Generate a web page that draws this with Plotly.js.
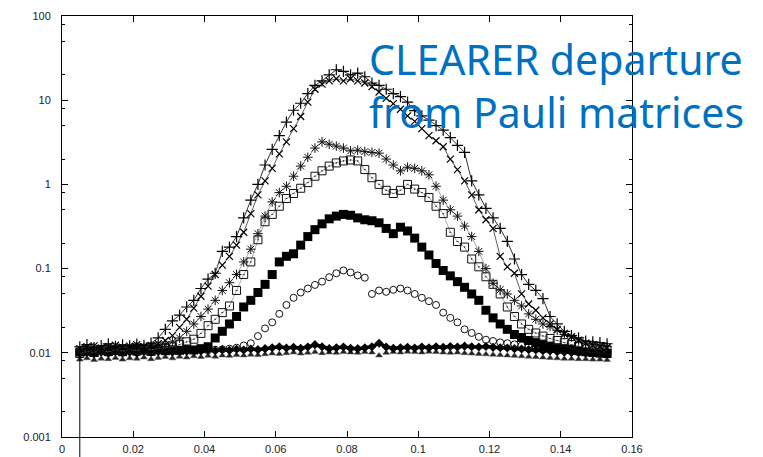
<!DOCTYPE html>
<html>
<head>
<meta charset="utf-8">
<script src="https://cdn.plot.ly/plotly-3.0.1.min.js"></script>
<style>html,body{margin:0;padding:0;background:#fff;}#chart{width:763px;height:457px;}</style>
</head>
<body>
<div id="chart"></div>
<script>
const xs = [0.005,0.007,0.009,0.011,0.013,0.015,0.017,0.019,0.021,0.023,0.025,0.027,0.029,0.031,0.033,0.035,0.037,0.039,0.041,0.043,0.045,0.047,0.049,0.051,0.053,0.055,0.057,0.059,0.061,0.063,0.065,0.067,0.069,0.071,0.073,0.075,0.077,0.079,0.081,0.083,0.085,0.087,0.089,0.091,0.093,0.095,0.097,0.099,0.101,0.103,0.105,0.107,0.109,0.111,0.113,0.115,0.117,0.119,0.121,0.123,0.125,0.127,0.129,0.131,0.133,0.135,0.137,0.139,0.141,0.143,0.145,0.147,0.149,0.151,0.153];

const plusVals = [0.0118,0.0125,0.0115,0.0122,0.0128,0.0119,0.0124,0.0121,0.0127,0.0123,0.013,0.015,0.019,0.024,0.028,0.035,0.042,0.058,0.075,0.088,0.16,0.18,0.24,0.40,0.65,1.0,1.7,2.6,3.8,5.5,7.6,9.2,12,15,17,20,23,22,20,21,19,16,15,13.5,12,11,9.5,7.5,6.5,5.8,5.0,4.4,3.6,2.9,2.4,1.1,0.75,0.52,0.40,0.30,0.21,0.13,0.085,0.065,0.055,0.044,0.027,0.022,0.018,0.016,0.015,0.0138,0.0135,0.0132,0.0128];

const crossVals = [0.0112,0.0118,0.0121,0.0114,0.0119,0.0123,0.0116,0.012,0.0125,0.0118,0.0122,0.0128,0.014,0.016,0.02,0.025,0.034,0.047,0.062,0.085,0.11,0.14,0.19,0.27,0.45,0.75,1.1,1.55,2.3,3.2,4.6,6.4,9.5,13.5,15.5,17,18,17,18,17,16,14.5,12.5,10.5,9.1,7.8,6.5,5.6,4.6,3.8,3.3,2.8,2.0,1.5,1.1,0.75,0.5,0.38,0.3,0.14,0.105,0.088,0.05,0.038,0.032,0.026,0.022,0.019,0.017,0.0155,0.014,0.013,0.0122,0.0118,0.0115];

const starVals = [0.0105,0.011,0.0113,0.0108,0.0115,0.0111,0.0117,0.0113,0.0118,0.0114,0.0119,0.012,0.0125,0.0135,0.015,0.018,0.022,0.027,0.033,0.042,0.055,0.068,0.085,0.12,0.17,0.26,0.42,0.62,0.8,0.95,1.25,1.65,2.1,2.7,3.2,3.0,2.85,2.7,2.5,2.55,2.45,2.4,2.35,2.0,1.7,1.45,1.6,1.55,1.45,1.3,0.95,0.65,0.5,0.42,0.32,0.24,0.16,0.1,0.067,0.056,0.05,0.042,0.036,0.029,0.025,0.022,0.0205,0.0185,0.0165,0.0155,0.0142,0.013,0.0125,0.012,0.0118];

const boxVals = [0.0098,0.0104,0.0101,0.0107,0.0103,0.0108,0.0105,0.011,0.0106,0.0111,0.0109,0.0112,0.0115,0.0118,0.0125,0.0135,0.0145,0.017,0.021,0.025,0.03,0.036,0.055,0.085,0.12,0.22,0.36,0.44,0.55,0.68,0.78,0.9,1.05,1.25,1.45,1.65,1.8,1.9,1.95,1.9,1.5,1.2,1.0,0.85,0.78,0.85,1.0,0.88,0.8,0.7,0.55,0.45,0.27,0.21,0.18,0.13,0.105,0.08,0.065,0.05,0.035,0.027,0.022,0.019,0.0172,0.0158,0.0148,0.014,0.0132,0.0125,0.012,0.0115,0.0112,0.011,0.0108];

const solidSqVals = [0.0102,0.0106,0.0101,0.0108,0.0104,0.0107,0.0103,0.0109,0.0105,0.0108,0.0104,0.011,0.0106,0.0109,0.0107,0.0111,0.0108,0.0112,0.0118,0.015,0.018,0.022,0.027,0.035,0.042,0.052,0.065,0.085,0.12,0.14,0.15,0.19,0.24,0.29,0.34,0.39,0.42,0.44,0.43,0.40,0.38,0.37,0.35,0.30,0.26,0.31,0.28,0.23,0.18,0.145,0.115,0.095,0.082,0.07,0.06,0.05,0.042,0.032,0.026,0.022,0.019,0.0165,0.0152,0.014,0.0132,0.0125,0.012,0.0115,0.0112,0.011,0.0106,0.0103,0.0101,0.0099,0.0098];

const circleVals = [0.0101,0.0104,0.0099,0.0106,0.0102,0.0105,0.01,0.0107,0.0103,0.0106,0.0102,0.0108,0.0104,0.0107,0.0105,0.0109,0.0106,0.011,0.0107,0.0109,0.011,0.0112,0.0115,0.0122,0.013,0.0158,0.0195,0.023,0.029,0.037,0.045,0.052,0.058,0.064,0.07,0.079,0.088,0.095,0.09,0.083,0.078,0.05,0.055,0.053,0.056,0.058,0.055,0.05,0.045,0.041,0.037,0.03,0.026,0.023,0.019,0.0172,0.0155,0.0143,0.0138,0.0133,0.013,0.0126,0.0122,0.012,0.0117,0.0114,0.0111,0.0108,0.0106,0.0104,0.0102,0.01,0.0099,0.0098,0.0097];

const baseUpperVals = [0.0098,0.0101,0.0097,0.0102,0.0099,0.0103,0.01,0.0102,0.0099,0.0104,0.0101,0.0103,0.0105,0.0102,0.0106,0.0104,0.0107,0.0105,0.0108,0.0106,0.0109,0.0107,0.011,0.0108,0.0111,0.0109,0.0112,0.0115,0.0118,0.0114,0.0116,0.0113,0.0117,0.0125,0.0118,0.0112,0.0115,0.0117,0.0113,0.0112,0.0115,0.0118,0.013,0.0117,0.0113,0.0115,0.0116,0.0114,0.0117,0.0115,0.0118,0.0116,0.0119,0.0117,0.012,0.0118,0.0117,0.0119,0.0116,0.0115,0.0114,0.0112,0.0111,0.0109,0.0108,0.0106,0.0105,0.0103,0.0102,0.0101,0.01,0.0099,0.0098,0.0097,0.0096];

const baseLowerVals = [0.0083,0.0086,0.0082,0.0085,0.0084,0.0087,0.0083,0.0086,0.0085,0.0088,0.0084,0.0087,0.0089,0.0086,0.009,0.0088,0.0091,0.0089,0.0092,0.009,0.0093,0.0092,0.0094,0.0093,0.0095,0.0094,0.0096,0.0098,0.0097,0.0099,0.0101,0.0098,0.01,0.0102,0.0099,0.0101,0.01,0.0102,0.0101,0.01,0.0102,0.0101,0.0093,0.01,0.0102,0.0101,0.0103,0.0102,0.0101,0.0103,0.0102,0.0101,0.01,0.0101,0.0099,0.0098,0.0097,0.0096,0.0095,0.0094,0.0093,0.0092,0.0091,0.009,0.0089,0.0088,0.0087,0.0086,0.0085,0.0085,0.0084,0.0084,0.0083,0.0083,0.0082];

const xTickVals = [0,0.02,0.04,0.06,0.08,0.1,0.12,0.14,0.16];
const xTickText = ['0','0.02','0.04','0.06','0.08','0.1','0.12','0.14','0.16'];
const yTickVals = [0.001,0.01,0.1,1,10,100];
const yTickText = ['0.001','0.01','0.1','1','10','100'];
const yMinorVals = [0.002,0.005,0.008,0.02,0.05,0.08,0.2,0.5,0.8,2,5,8,20,50,80];
const xRange = [0,0.16];
const yRangeLog = [-3,2];
const titleLines = ['CLEARER departure','from Pauli matrices'];

const blk = '#000';
const traces = [
  {x: xs, y: baseLowerVals, mode: 'markers', marker: {symbol: 'triangle-up', size: 6, color: '#222', line: {width: 0.5, color: '#555'}}},
  {x: xs, y: baseUpperVals, mode: 'lines+markers', line: {color: blk, width: 3.5}, marker: {symbol: 'diamond', size: 7, color: blk}},
  {x: xs, y: circleVals, mode: 'markers', marker: {symbol: 'circle-open', size: 7, color: '#111', line: {width: 1}}},
  {x: xs, y: solidSqVals, mode: 'markers', marker: {symbol: 'square', size: 9, color: blk}},
  {x: xs, y: boxVals, mode: 'lines+markers', line: {color: '#888', width: 0.7}, marker: {symbol: 'square-open-dot', size: 8, color: '#111', line: {width: 1}}},
  {x: xs, y: starVals, mode: 'lines+markers', line: {color: '#666', width: 0.6}, marker: {symbol: 'asterisk-open', size: 8, color: '#111', line: {width: 1}}},
  {x: xs, y: crossVals, mode: 'lines+markers', line: {color: '#333', width: 0.8}, marker: {symbol: 'x-thin-open', size: 7, color: blk, line: {width: 1.2}}},
  {x: xs, y: plusVals, mode: 'lines+markers', line: {color: blk, width: 0.8}, marker: {symbol: 'cross-thin-open', size: 8, color: blk, line: {width: 1.2}}}
];

const yPaperOf = v => (Math.log10(v) - yRangeLog[0]) / (yRangeLog[1] - yRangeLog[0]);

const axisCommon = {
  showline: true, linecolor: '#000', linewidth: 1, mirror: 'ticks',
  ticks: 'inside', ticklen: 6, tickwidth: 1, tickcolor: '#000',
  showgrid: false, zeroline: false,
  tickfont: {family: 'Liberation Sans, Arial, sans-serif', size: 11, color: '#222'}
};

const layout = {
  width: 763, height: 457,
  margin: {l: 62, r: 131, t: 16, b: 20, pad: 0},
  paper_bgcolor: '#fff', plot_bgcolor: '#fff',
  showlegend: false,
  xaxis: Object.assign({}, axisCommon, {
    range: xRange, tickmode: 'array', tickvals: xTickVals, ticktext: xTickText, ticklabelstandoff: 2
  }),
  yaxis: Object.assign({}, axisCommon, {
    type: 'log', range: yRangeLog, tickmode: 'array', tickvals: yTickVals, ticktext: yTickText,
    ticklabelstandoff: 8,
    minor: {tickmode: 'array', tickvals: yMinorVals, ticks: 'inside', ticklen: 3, tickwidth: 1, tickcolor: '#000', showgrid: false}
  }),
  shapes: [{
    type: 'line', xref: 'x', yref: 'paper',
    x0: xs[0], x1: xs[0], y0: yPaperOf(plusVals[0]), y1: -0.06,
    line: {color: '#000', width: 1}, layer: 'above'
  }],
  annotations: [{
    xref: 'paper', yref: 'paper', x: 0.535, y: 0.968, xanchor: 'left', yanchor: 'top',
    align: 'left', showarrow: false,
    text: titleLines.join('<br>'),
    font: {family: 'Noto Sans, sans-serif', size: 41, color: '#0070C0'}
  }]
};

Plotly.newPlot('chart', traces, layout, {staticPlot: true, displayModeBar: false});
</script>
</body>
</html>
